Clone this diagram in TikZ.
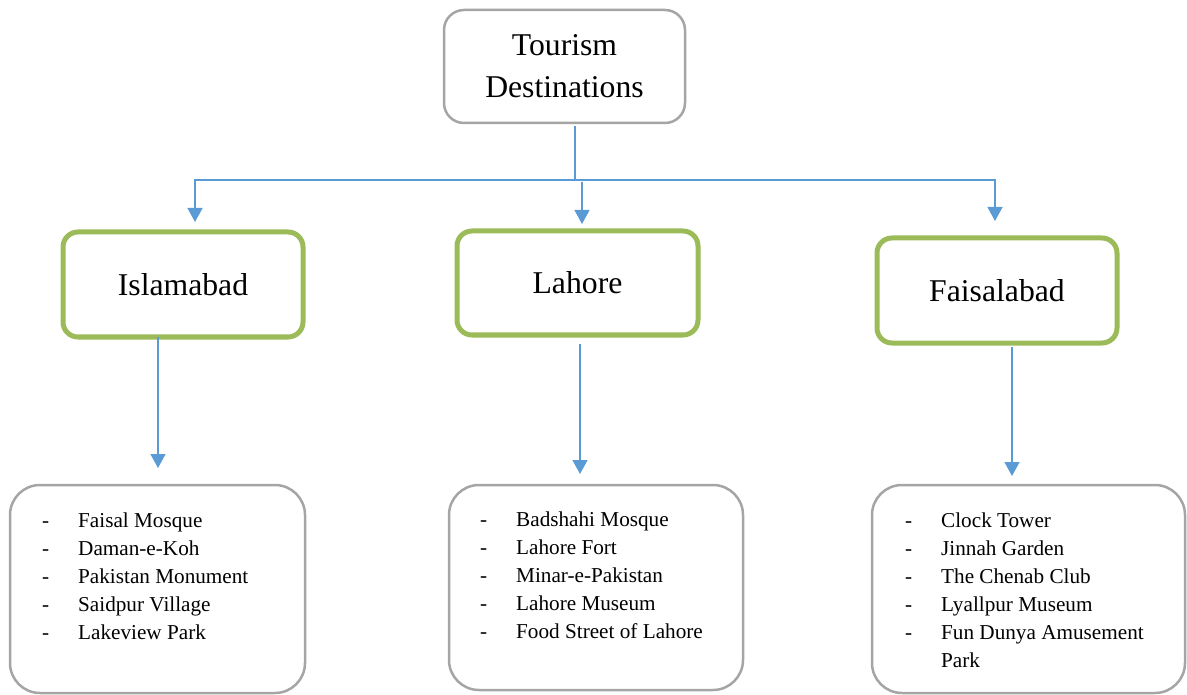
\documentclass[tikz,border=0pt]{standalone}
\usepackage{fontspec}
\setmainfont{Liberation Serif}
\usetikzlibrary{arrows.meta,positioning}
\definecolor{headgray}{HTML}{A5A5A5}
\definecolor{citygreen}{HTML}{9BBB59}
\definecolor{linkblue}{HTML}{5B9BD5}
\newcommand{\place}[1]{\strut\makebox[36pt][l]{-}#1}

\begin{document}
\begin{tikzpicture}[x=1pt, y=-1pt,
        head/.style={draw=headgray, line width=2.5pt, rounded corners=20pt, outer sep=0pt,
            minimum width=241pt, minimum height=113pt, align=center,
            font=\fontsize{31.7}{42}\selectfont},
        city/.style={draw=citygreen, line width=5pt, rounded corners=15pt, outer sep=0pt,
            minimum width=240pt, minimum height=105pt, font=\fontsize{31.7}{42}\selectfont},
        listbox/.style={draw=headgray, line width=2.5pt, rounded corners=30pt, outer sep=0pt},
        places/.style={anchor=north west, inner sep=0pt, align=left,
            font=\fontsize{21.2}{28}\selectfont},
        link/.style={draw=linkblue, line width=1.3pt, -{Triangle[width=15pt,length=14pt]}}]
    \useasboundingbox (0,0) rectangle (1187,695);
    % top and city boxes
    \node[head] (tour) at (564.5,66.5) {Tourism\\Destinations};
    \node[city] (isb) at (183,284.5) {Islamabad};
    \node[city, minimum width=241pt, minimum height=104pt] (lhr) at (577.5,283) {Lahore};
    \node[city] (fsd) at (997,290.5) {Faisalabad};
    % place lists
    \node[listbox, minimum width=295pt, minimum height=208pt] (isbBox) at (157.5,589) {};
    \node[listbox, minimum width=294pt, minimum height=205pt] (lhrBox) at (596,587.5) {};
    \node[listbox, minimum width=313pt, minimum height=208pt] (fsdBox) at (1028.5,589) {};
    \node[places] (isbList) at (42,507.4) {\place{Faisal Mosque}\\\place{Daman-e-Koh}\\
        \place{Pakistan Monument}\\\place{Saidpur Village}\\\place{Lakeview Park}};
    \node[places] (lhrList) at (480,506.4) {\place{Badshahi Mosque}\\\place{Lahore Fort}\\
        \place{Minar-e-Pakistan}\\\place{Lahore Museum}\\\place{Food Street of Lahore}};
    \node[places] (fsdList) at (905,507.4) {\place{Clock Tower}\\\place{Jinnah Garden}\\
        \place{The Chenab Club}\\\place{Lyallpur Museum}\\\place{Fun Dunya Amusement}\\
        \strut\hspace*{36pt}Park};
    % connectors
    \coordinate (split) at (575,180);
    \coordinate (hl) at (195,180);
    \coordinate (hr) at (995,180);
    \coordinate (mid) at (582,182);
    \draw[link, -] ([yshift=-3pt]tour.south -| split) -- (split);
    \draw[link, shorten >=10pt] (split) -| (hl |- isb.north);
    \draw[link, shorten >=17pt] (split) -| (hr |- fsd.north);
    \draw[link, shorten >=7pt] (mid) -- (mid |- lhr.north);
    \draw[link, shorten >=17pt] ([xshift=-25pt]isb.south) -- ([xshift=-25pt]isb.south |- isbBox.north);
    \draw[link, shorten <=9pt, shorten >=11pt] ([xshift=2.5pt]lhr.south) -- ([xshift=2.5pt]lhr.south |- lhrBox.north);
    \draw[link, shorten <=4pt, shorten >=9pt] ([xshift=15pt]fsd.south) -- ([xshift=15pt]fsd.south |- fsdBox.north);
\end{tikzpicture}
\end{document}
